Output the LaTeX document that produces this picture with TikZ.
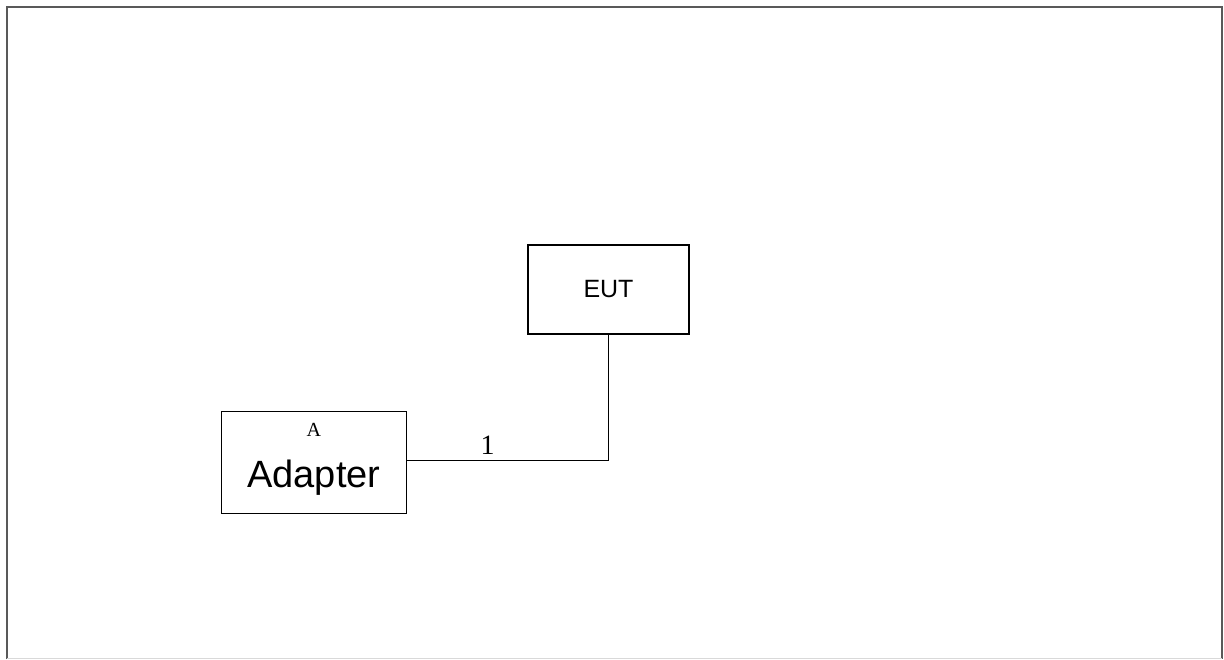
\documentclass[tikz,border=0pt]{standalone}
\usepackage{fontspec}
\setmainfont{Liberation Sans}
\newfontfamily\labelfont{Liberation Serif}
\newfontfamily\numfont{Liberation Serif}
\usetikzlibrary{positioning}

\tikzset{
    unitbox/.style={rectangle, draw, line width=0.8pt, inner sep=0pt, text centered},
    frameline/.style={draw=black!65, line width=1pt}
}

\begin{document}
\begin{tikzpicture}[x=0.5pt, y=-0.5pt]
    % Frame
    \useasboundingbox (0,0) rectangle (1224,659);
    \draw[frameline] (7,659) -- (7,7) -- (1222,7) -- (1222,659);
    \draw[draw=black!15, line width=0.5pt] (7,658) -- (1222,658);

    % Nodes
    \node (eut) [unitbox, minimum width=80.5pt, minimum height=44.5pt, font=\fontsize{12.5}{14}\selectfont] at (608.5,289.5) {EUT};
    \node (adapter) [unitbox, below left=38pt and 60pt of eut, minimum width=92.5pt, minimum height=51pt] {};
    \node (adaptername) [font=\fontsize{19}{22}\selectfont] at ([yshift=-7.5pt]adapter.center) {Adapter};
    \node (adapterid) [font=\labelfont\fontsize{10}{11}\selectfont, below=5pt of adapter.north, inner sep=1pt] {A};

    % Edges
    \coordinate (cablestart) at ([yshift=1pt]adapter.east);
    \draw[line width=0.8pt] (cablestart) -| node[pos=0.2, above, inner sep=2.5pt, font=\numfont\fontsize{14}{15}\selectfont] {1} (eut.south);
\end{tikzpicture}
\end{document}
